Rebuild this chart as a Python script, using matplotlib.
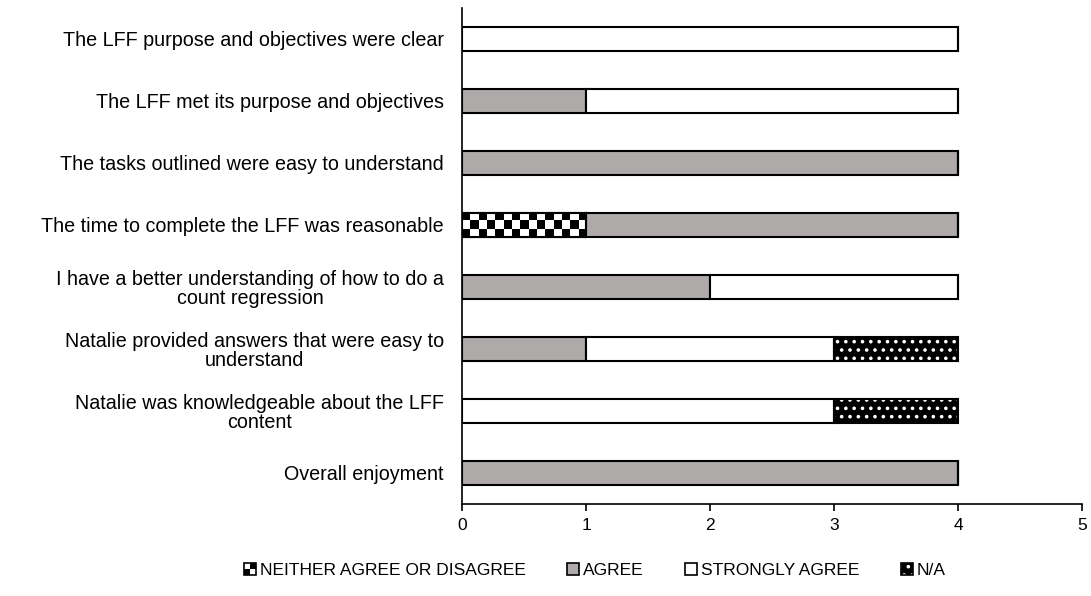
import numpy as np
import matplotlib
matplotlib.use("Agg")
import matplotlib.pyplot as plt
from matplotlib.patches import Patch, Rectangle
from matplotlib.legend_handler import HandlerBase

plt.rcParams['font.family'] = ['Liberation Sans', 'DejaVu Sans']
plt.rcParams['hatch.linewidth'] = 1.4

# Questions (top to bottom) and counts per response
questions = [
    "The LFF purpose and objectives were clear",
    "The LFF met its purpose and objectives",
    "The tasks outlined were easy to understand",
    "The time to complete the LFF was reasonable",
    "I have a better understanding of how to do a\ncount regression",
    "Natalie provided answers that were easy to\nunderstand",
    "Natalie was knowledgeable about the LFF\ncontent",
    "Overall enjoyment",
]
neither = [0, 0, 0, 1, 0, 0, 0, 0]
agree = [0, 1, 4, 3, 2, 1, 0, 4]
strongly_agree = [4, 3, 0, 0, 2, 2, 3, 0]
not_applicable = [0, 0, 0, 0, 0, 1, 1, 0]
legend_labels = ["NEITHER AGREE OR DISAGREE", "AGREE", "STRONGLY AGREE", "N/A"]

grey = "#AEAAAA"
bar_h = 0.39


class CheckerHandler(HandlerBase):
    # little 2x2 checker square for the legend
    def create_artists(self, legend, orig, xd, yd, w, h, fontsize, trans):
        s = min(w, h)
        arts = []
        for i in range(2):
            for j in range(2):
                c = "black" if (i + j) % 2 == 0 else "white"
                arts.append(Rectangle((xd + i * s / 2, yd + j * s / 2), s / 2, s / 2,
                                      facecolor=c, edgecolor="none", transform=trans))
        arts.append(Rectangle((xd, yd), s, s, fill=False, edgecolor="black", lw=1.2, transform=trans))
        return arts


class DotHandler(HandlerBase):
    # black square with white dots
    def create_artists(self, legend, orig, xd, yd, w, h, fontsize, trans):
        s = min(w, h)
        a = Rectangle((xd, yd), s, s, facecolor="black", edgecolor="white", hatch="..",
                      lw=0, transform=trans)
        b = Rectangle((xd, yd), s, s, fill=False, edgecolor="black", lw=1.2, transform=trans)
        return [a, b]


class SquareHandler(HandlerBase):
    def create_artists(self, legend, orig, xd, yd, w, h, fontsize, trans):
        s = min(w, h)
        return [Rectangle((xd, yd), s, s, facecolor=orig.get_facecolor(), edgecolor="black",
                          lw=1.2, transform=trans)]


fig = plt.figure(figsize=(10.91, 5.96), dpi=100)
ax = fig.add_axes([0.4235, 0.1544, 0.5683, 0.8322])

y = np.arange(len(questions))
neither = np.array(neither)
agree = np.array(agree)
strongly_agree = np.array(strongly_agree)
not_applicable = np.array(not_applicable)

# neutral: checkerboard fill clipped to each bar
b_neither = ax.barh(y, neither, height=bar_h, color="white", edgecolor="black", linewidth=1.5, zorder=2)
for rect in b_neither:
    if rect.get_width() <= 0:
        continue
    x0, y0 = rect.get_x(), rect.get_y()
    w, h = rect.get_width(), rect.get_height()
    ncol = int(round(w * 15))
    board = np.indices((3, ncol)).sum(axis=0) % 2
    im = ax.imshow(board, cmap="gray", extent=(x0, x0 + w, y0 + h, y0), aspect="auto",
                   interpolation="nearest", zorder=2.5)
    im.set_clip_path(rect)
    ax.add_patch(Rectangle((x0, y0), w, h, fill=False, edgecolor="black", linewidth=1.5, zorder=3))

left = neither
ax.barh(y, agree, left=left, height=bar_h, color=grey, edgecolor="black", linewidth=1.5, zorder=2)
left = left + agree
ax.barh(y, strongly_agree, left=left, height=bar_h, color="white", edgecolor="black", linewidth=1.5, zorder=2)
left = left + strongly_agree
# n/a: black with white dots
ax.barh(y, not_applicable, left=left, height=bar_h, color="black", edgecolor="black", linewidth=0, zorder=2)
ax.barh(y, not_applicable, left=left, height=bar_h, color="none", edgecolor="white", hatch="..",
        linewidth=0, zorder=2.5)
ax.barh(y, not_applicable, left=left, height=bar_h, color="none", edgecolor="black", linewidth=1.5, zorder=3)

ax.set_xlim(0, 5)
ax.set_ylim(len(questions) - 0.5, -0.5)
ax.set_xticks(range(6))
ax.set_yticks(y)
ax.set_yticklabels(questions, multialignment="center", linespacing=1.0)
ax.tick_params(axis="y", length=0, pad=13, labelsize=14.2)
ax.tick_params(axis="x", length=5, width=1.2, labelsize=12.5, pad=5)
for s in ["top", "right"]:
    ax.spines[s].set_visible(False)
ax.spines["left"].set_linewidth(1.2)
ax.spines["bottom"].set_linewidth(1.2)

handles = [
    Patch(facecolor="white"),
    Patch(facecolor=grey),
    Patch(facecolor="white"),
    Patch(facecolor="black"),
]
hmap = {handles[0]: CheckerHandler(), handles[1]: SquareHandler(),
        handles[2]: SquareHandler(), handles[3]: DotHandler()}
fig.legend(handles, legend_labels, handler_map=hmap, loc="center", bbox_to_anchor=(0.545, 0.043),
           ncol=4, frameon=False, fontsize=12.5, handlelength=0.7, handleheight=0.7,
           handletextpad=0.2, columnspacing=2.4)

fig.savefig("out.png", dpi=100)
